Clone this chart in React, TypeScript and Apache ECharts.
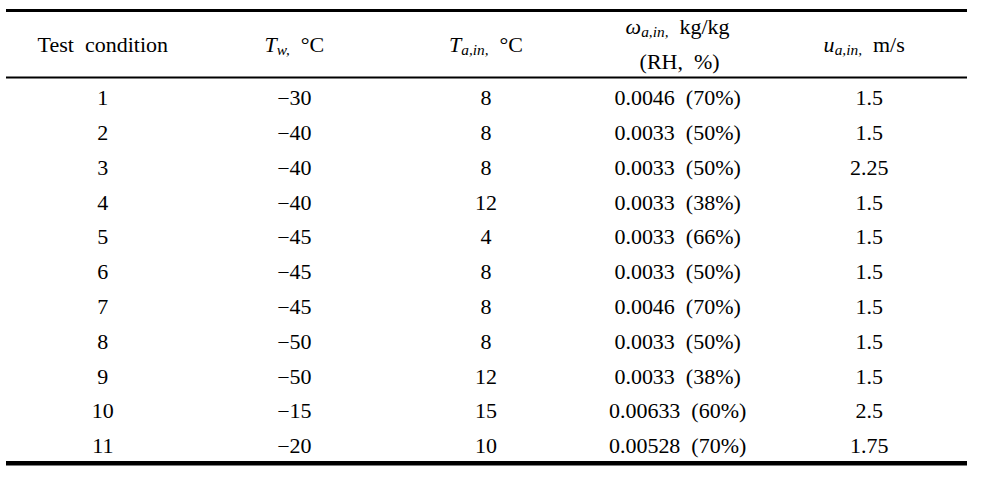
import React, { useEffect, useRef } from "react";
import * as echarts from "echarts";

// ---- data ----
const CONDITIONS = [1, 2, 3, 4, 5, 6, 7, 8, 9, 10, 11];
const T_W = [-30, -40, -40, -40, -45, -45, -45, -50, -50, -15, -20];
const T_A_IN = [8, 8, 8, 12, 4, 8, 8, 8, 12, 15, 10];
const OMEGA = [0.0046, 0.0033, 0.0033, 0.0033, 0.0033, 0.0033, 0.0046, 0.0033, 0.0033, 0.00633, 0.00528];
const RH = [70, 50, 50, 38, 66, 50, 70, 50, 38, 60, 70];
const U_A_IN = [1.5, 1.5, 2.25, 1.5, 1.5, 1.5, 1.5, 1.5, 1.5, 2.5, 1.75];
const COLUMNS = ["Test condition", "Tw", "Ta,in", "omega", "ua,in"];

const FONT = "Liberation Serif";
const SX = 1.1;

function cellTexts(): [number, number, string][] {
  const out: [number, number, string][] = [];
  CONDITIONS.forEach((c, r) => {
    const tw = T_W[r];
    out.push([0, r, String(c)]);
    out.push([1, r, (tw < 0 ? "\u2212" : "") + String(Math.abs(tw))]);
    out.push([2, r, String(T_A_IN[r])]);
    out.push([3, r, String(OMEGA[r]) + "\u00a0\u00a0(" + RH[r] + "%)"]);
    out.push([4, r, String(U_A_IN[r])]);
  });
  return out;
}

export default function App() {
  const ref = useRef<HTMLDivElement>(null);
  useEffect(() => {
    if (!ref.current) return;
    const chart = echarts.init(ref.current, null, { renderer: "svg" });
    const W = 989;
    const gridLeft = 7;
    const gridRight = 24;
    const band = (W - gridLeft - gridRight) / COLUMNS.length;
    const cx = (i: number) => gridLeft + (i + 0.5) * band;
    const cells = cellTexts();

    const rich = {
      i: { fontFamily: FONT, fontSize: 20, fontStyle: "italic", lineHeight: 24, fill: "#000" },
      s: { fontFamily: FONT, fontSize: 14, fontStyle: "italic", lineHeight: 14, verticalAlign: "bottom", fill: "#000" },
      n: { fontFamily: FONT, fontSize: 20, lineHeight: 24, fill: "#000" },
    };
    const headerText = (x: number, y: number, text: string) => ({
      type: "text",
      x,
      y,
      scaleX: SX,
      style: {
        text,
        x: 0,
        y: 0,
        align: "center",
        verticalAlign: "middle",
        fontFamily: FONT,
        fontSize: 20,
        fill: "#000",
        rich,
      },
    });

    chart.setOption({
      animation: false,
      backgroundColor: "#fff",
      grid: { left: gridLeft, right: gridRight, top: 81, bottom: 15 },
      xAxis: { type: "category", data: COLUMNS, show: false },
      yAxis: {
        type: "category",
        data: CONDITIONS.map(String),
        inverse: true,
        show: false,
      },
      graphic: [
        { type: "rect", shape: { x: 6, y: 9, width: 961, height: 3 }, style: { fill: "#000" } },
        { type: "rect", shape: { x: 6, y: 76.5, width: 961, height: 2 }, style: { fill: "#000" } },
        { type: "rect", shape: { x: 6, y: 461, width: 961, height: 4.5 }, style: { fill: "#000" } },
        headerText(cx(0), 45, "{n|Test\u00a0\u00a0condition}"),
        headerText(cx(1), 45, "{i|T}{s|w,}{n|\u00a0\u00a0\u00b0C}"),
        headerText(cx(2), 45, "{i|T}{s|a,in,}{n|\u00a0\u00a0\u00b0C}"),
        headerText(cx(3), 27, "{i|\u03c9}{s|a,in,}{n|\u00a0\u00a0kg/kg}"),
        headerText(cx(3) + 2, 62, "{n|(RH,\u00a0\u00a0%)}"),
        headerText(cx(4) - 5, 45, "{i|u}{s|a,in,}{n|\u00a0\u00a0m/s}"),
      ],
      series: [
        {
          type: "custom",
          coordinateSystem: "cartesian2d",
          data: cells.map((c) => [c[0], c[1]]),
          encode: { x: 0, y: 1 },
          renderItem: (params: any, api: any) => {
            const p = api.coord([api.value(0), api.value(1)]);
            return {
              type: "text",
              x: p[0],
              y: p[1],
              scaleX: SX,
              style: {
                text: cells[params.dataIndex][2],
                x: 0,
                y: 0,
                align: "center",
                verticalAlign: "middle",
                fontFamily: FONT,
                fontSize: 20,
                fill: "#000",
              },
            };
          },
        },
      ],
    });
    return () => chart.dispose();
  }, []);
  return (
    <div
      ref={ref}
      style={{ position: "fixed", left: 0, top: 0, width: 989, height: 479, background: "#fff" }}
    />
  );
}
